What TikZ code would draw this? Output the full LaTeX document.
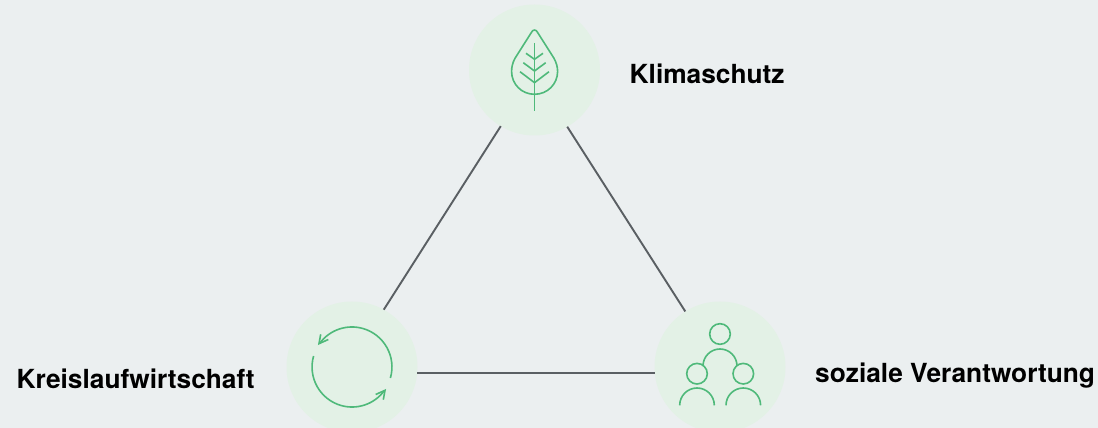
\documentclass[tikz,border=0pt]{standalone}
\usepackage{fontspec}
\setmainfont{TeX Gyre Heros}
\definecolor{bgGrey}{HTML}{EBEFF0}
\definecolor{discGreen}{HTML}{E3F1E6}
\definecolor{iconGreen}{HTML}{4FB97A}
\definecolor{edgeGrey}{HTML}{5A5F63}
\tikzset{
	disc/.style={circle, fill=discGreen, minimum size=131pt, inner sep=0pt, outer sep=0pt},
	edge/.style={line width=1.9pt, color=edgeGrey},
	icon/.style={line width=1.6pt, color=iconGreen},
	label/.style={anchor=base west, inner sep=0pt, font=\bfseries\fontsize{26.3}{30}\selectfont}
}

\begin{document}
\begin{tikzpicture}[x=1pt, y=1pt]
		%%%%% START %%%%%
		\fill[bgGrey] (0, 0) rectangle (1098, 428);
		\useasboundingbox (0, 0) rectangle (1098, 428);
		
		\node[disc] (klima) at (534.5, 358) {};
		\node[disc] (kreis) at (352, 61) {};
		\node[disc] (sozial) at (720, 61) {};
		
		\draw[edge] (klima.239) -- (kreis.61);
		\draw[edge] (klima.300) -- (sozial.122);
		\draw[edge] (kreis.-5.5) -- (sozial.185.5);
		
		% leaf
		\draw[icon] (531.7, 396) .. controls (533, 398.6) and (536, 398.6) .. (537.3, 396)
			-- (554, 369.7) .. controls (556.5, 365) and (557.6, 361) .. (557.6, 356.5)
			.. controls (557.6, 344) and (547.5, 333.7) .. (534.5, 333.7)
			.. controls (521.5, 333.7) and (511.6, 344) .. (511.6, 356.5)
			.. controls (511.6, 361) and (512.5, 365) .. (515, 369.7) -- cycle;
		\draw[icon] (534.5, 385) -- (534.5, 317);
		\draw[icon] (526, 374.7) -- (534.5, 368.7) -- (543, 374.7);
		\draw[icon] (523.3, 365.3) -- (534.5, 357) -- (545.7, 365.3);
		\draw[icon] (520, 356.3) -- (534.5, 345.3) -- (549, 356.3);
		
		% cycle
		\draw[icon] (390.4, 50) arc (-16:144:40);
		\draw[icon] (328.3, 88.5) -- (319, 84.3) -- (320.7, 93.7);
		\draw[icon] (313.6, 72) arc (164:324:40);
		\draw[icon] (375.7, 33.5) -- (385, 37.7) -- (383.3, 28.3);
		
		% people
		\draw[icon] (720, 94) circle (10.3);
		\draw[icon] (697, 54.3) circle (10.3);
		\draw[icon] (743.3, 54.3) circle (10.3);
		\draw[icon] (703, 62) arc (180:0:17);
		\draw[icon] (679.7, 22.7) arc (180:0:17.3);
		\draw[icon] (726, 22.7) arc (180:0:17.3);
		
		\node[label] (klimaText) at (629.5, 344.5) {Klimaschutz};
		\node[label] (kreisText) at (16.5, 39.5) {Kreislaufwirtschaft};
		\node[label] (sozialText) at (815, 45.5) {soziale Verantwortung};
		%%%%% END %%%%%
\end{tikzpicture}
\end{document}
